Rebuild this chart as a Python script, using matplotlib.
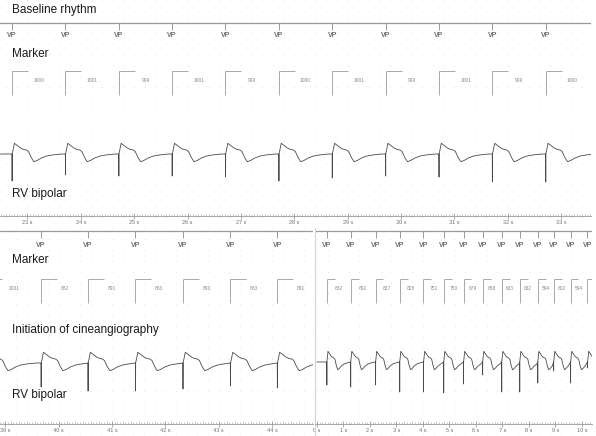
import numpy as np
import matplotlib
matplotlib.use("Agg")
import matplotlib.pyplot as plt
from matplotlib.ticker import MultipleLocator, FuncFormatter

plt.rcParams["font.family"] = ["Liberation Sans", "DejaVu Sans"]

# -------------------------------
# Data read off the tracing
# -------------------------------
# baseline rhythm: paced beats (s), marker intervals (ms), spike depth
top_beats = [22.71, 23.71, 24.71, 25.71, 26.71, 27.71, 28.71, 29.71, 30.71, 31.71, 32.71]
top_intervals = [1000, 1001, 999, 1001, 999, 1000, 1001, 999, 1001, 999, 1000]
top_spikes = [27, 21, 22, 22, 23, 27, 24, 22, 23, 28, 28]

# initiation of cineangiography, left strip
left_beats = [38.64, 39.67, 40.55, 41.44, 42.33, 43.22, 44.10]
left_intervals = [1031, 882, 891, 883, 890, 883, 891]
left_spikes = [24, 24, 28, 28, 26, 23, 25]

# right strip (compressed time scale)
right_beats = [0.37, 1.27, 2.21, 3.12, 4.02, 4.78, 5.53, 6.25, 6.97, 7.65, 8.33, 8.93, 9.57, 10.21]
right_intervals = [882, 892, 827, 828, 751, 750, 679, 688, 633, 632, 594, 602, 594, 602]
right_spikes = [23, 25, 23, 30, 30, 31, 22, 13, 30, 30, 21, 9, 21, 6]

# shape of one paced beat: time after spike (s), deflection (up = +)
beat_t = [0.0, 0.002, 0.004, 0.045, 0.10, 0.16, 0.22, 0.27, 0.31, 0.36, 0.41, 0.47, 0.55, 0.65, 0.78, 0.95]
beat_v = [0.0, 0.0, 0.0, 10.7, 8.5, 6.0, 4.5, 4.0, 2.5, -3.5, -7.7, -6.5, -4.0, -2.0, -0.8, 0.0]
SPIKE_KNOT = 1

W, H = 596, 436
LINE = "#9a9a9a"
TEXT_GREY = "#707070"


def trace(beats, spikes, start):
    t, v = [start], [0.0]
    for i, b in enumerate(beats):
        nxt = beats[i + 1] - b if i + 1 < len(beats) else 99
        for k, (kt, kv) in enumerate(zip(beat_t, beat_v)):
            if kt >= nxt:
                break
            t.append(b + kt)
            v.append(-spikes[i] if k == SPIKE_KNOT else kv)
    return np.array(t), np.array(v)


def panel(fig, box, xlim, beats, intervals, spikes, start, lay, grid_step, minor_step):
    x0, y0, w, h = box  # pixels, y from top
    ax = fig.add_axes([x0 / W, 1 - (y0 + h) / H, w / W, h / H])
    ax.set_xlim(xlim)
    ax.set_ylim(h, 0)
    ax.set_yticks([])
    for s in ["top", "right", "left"]:
        ax.spines[s].set_visible(False)

    # dotted background grid
    gx = np.arange(np.ceil(xlim[0] / grid_step) * grid_step, xlim[1], grid_step)
    ax.vlines(gx, 0, h, colors="#d6d6d6", lw=0.6, linestyles=[(0, (1, 12))], zorder=0)

    # VP channel
    ax.axhline(lay["vp"], color=LINE, lw=0.9)
    ax.vlines(beats, lay["vp"], lay["vp"] + 7, colors=LINE, lw=0.7)
    for b in beats:
        if xlim[0] < b < xlim[1]:
            ax.text(b, lay["vp_txt"], "VP", ha="center", va="center", fontsize=5,
                    fontweight="bold", color=TEXT_GREY, clip_on=True)

    # marker channel
    b_arr = np.array(beats)
    ax.vlines(b_arr, lay["br_top"], lay["br_bot"], colors="#a8a8a8", lw=0.7)
    ax.hlines(np.full(len(b_arr), lay["br_top"]), b_arr, b_arr + 0.3, colors="#a8a8a8", lw=0.7)
    for b, iv in zip(beats, intervals):
        ax.text(b + iv / 2000, lay["br_txt"], str(iv), ha="center", va="center",
                fontsize=3.5, color="#888888", clip_on=True)

    # RV bipolar electrogram
    t, v = trace(beats, spikes, start)
    ax.plot(t, lay["base"] - v, color="#4a4a4a", lw=0.6)

    # time ruler
    ax.spines["bottom"].set_position(("data", lay["ruler"]))
    ax.spines["bottom"].set_color(LINE)
    ax.spines["bottom"].set_linewidth(0.6)
    ax.xaxis.set_major_locator(MultipleLocator(1))
    ax.xaxis.set_minor_locator(MultipleLocator(minor_step))
    ax.xaxis.set_major_formatter(FuncFormatter(lambda x, p: f"{x:.0f} s"))
    ax.tick_params(axis="x", which="major", direction="inout", length=4, width=0.6,
                   color=LINE, labelsize=4, labelcolor=TEXT_GREY, pad=1)
    ax.tick_params(axis="x", which="minor", direction="in", length=1.5, width=0.4, color=LINE)
    return ax


fig = plt.figure(figsize=(W / 100, H / 100), dpi=100)

top_lay = dict(vp=23, vp_txt=35.7, br_top=71, br_bot=95, br_txt=80, base=154, ruler=216)
bot_lay = dict(vp=3, vp_txt=17.5, br_top=51, br_bot=75, br_txt=60, base=135, ruler=196)

panel(fig, (0, 0, 591, 228), (22.485, 33.56), top_beats, top_intervals, top_spikes,
      22.3, top_lay, 0.2, 0.05)
panel(fig, (0, 228, 313, 208), (38.90, 44.77), left_beats, left_intervals, left_spikes,
      38.5, bot_lay, 0.2, 0.05)
axr = panel(fig, (315, 228, 277, 208), (-0.075, 10.38), right_beats, right_intervals,
            right_spikes, 0.0, dict(bot_lay, base=134), 0.4, 0.1)
axr.spines["left"].set_visible(True)
axr.spines["left"].set_color("#d4d4d4")
axr.spines["left"].set_linewidth(0.8)

# channel labels
labels = [("Baseline rhythm", 12.5), ("Marker", 57), ("RV bipolar", 197),
          ("Marker", 263), ("Initiation of cineangiography", 333), ("RV bipolar", 398)]
for txt, yb in labels:
    fig.text(12 / W, 1 - yb / H, txt, fontsize=8.5, va="baseline", color="#1a1a1a")

fig.savefig("out.png", dpi=100)
